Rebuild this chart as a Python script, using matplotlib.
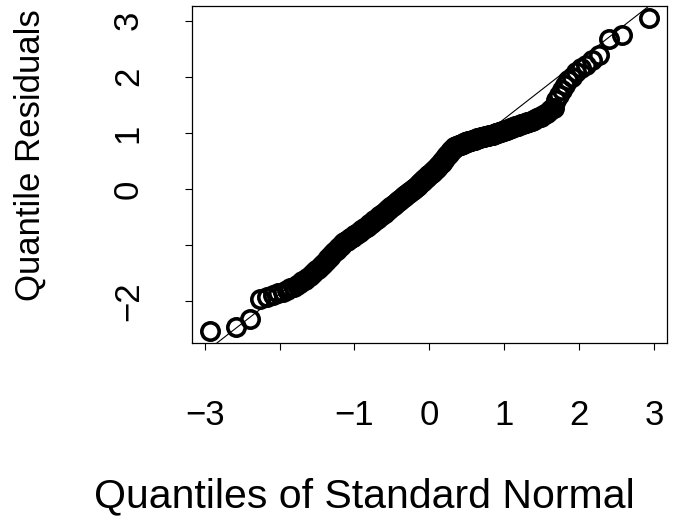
import statistics
import numpy as np
import matplotlib
matplotlib.use("Agg")
import matplotlib.pyplot as plt

plt.rcParams['font.family'] = ['Liberation Sans', 'DejaVu Sans']

# отсортированные квантильные остатки (n = 300)
residuals = [
    -2.53, -2.46, -2.32, -1.97, -1.92, -1.89, -1.86, -1.83, -1.80, -1.77,
    -1.74, -1.71, -1.68, -1.65, -1.62, -1.59, -1.55, -1.52, -1.48, -1.45,
    -1.42, -1.39, -1.36, -1.33, -1.30, -1.27, -1.24, -1.21, -1.18, -1.15,
    -1.13, -1.11, -1.08, -1.06, -1.04, -1.02, -0.99, -0.97, -0.95, -0.93,
    -0.92, -0.91, -0.89, -0.88, -0.87, -0.86, -0.85, -0.83, -0.82, -0.81,
    -0.80, -0.78, -0.77, -0.76, -0.74, -0.73, -0.72, -0.70, -0.69, -0.68,
    -0.67, -0.66, -0.64, -0.63, -0.62, -0.61, -0.60, -0.58, -0.57, -0.56,
    -0.55, -0.54, -0.53, -0.52, -0.51, -0.49, -0.48, -0.47, -0.46, -0.45,
    -0.44, -0.43, -0.42, -0.41, -0.40, -0.38, -0.37, -0.36, -0.35, -0.34,
    -0.33, -0.32, -0.31, -0.30, -0.29, -0.28, -0.27, -0.26, -0.25, -0.24,
    -0.23, -0.22, -0.21, -0.20, -0.19, -0.18, -0.17, -0.16, -0.15, -0.14,
    -0.13, -0.12, -0.11, -0.10, -0.09, -0.09, -0.08, -0.07, -0.06, -0.05,
    -0.04, -0.03, -0.02, -0.01, 0.00, 0.00, 0.01, 0.02, 0.03, 0.04,
    0.05, 0.06, 0.07, 0.08, 0.10, 0.11, 0.12, 0.13, 0.14, 0.15,
    0.16, 0.17, 0.18, 0.19, 0.20, 0.21, 0.22, 0.23, 0.24, 0.25,
    0.26, 0.27, 0.28, 0.29, 0.30, 0.31, 0.32, 0.33, 0.34, 0.35,
    0.36, 0.38, 0.39, 0.40, 0.41, 0.42, 0.44, 0.45, 0.46, 0.47,
    0.49, 0.50, 0.52, 0.53, 0.55, 0.56, 0.58, 0.59, 0.61, 0.62,
    0.63, 0.65, 0.66, 0.67, 0.69, 0.70, 0.71, 0.72, 0.74, 0.75,
    0.75, 0.76, 0.76, 0.77, 0.77, 0.78, 0.78, 0.79, 0.79, 0.80,
    0.80, 0.81, 0.81, 0.82, 0.82, 0.83, 0.83, 0.84, 0.84, 0.85,
    0.85, 0.86, 0.86, 0.86, 0.87, 0.87, 0.88, 0.88, 0.88, 0.89,
    0.89, 0.90, 0.90, 0.90, 0.91, 0.91, 0.92, 0.92, 0.92, 0.93,
    0.93, 0.94, 0.94, 0.94, 0.95, 0.95, 0.96, 0.96, 0.96, 0.97,
    0.97, 0.98, 0.98, 0.99, 0.99, 1.00, 1.00, 1.01, 1.01, 1.02,
    1.03, 1.03, 1.04, 1.05, 1.06, 1.06, 1.07, 1.08, 1.08, 1.09,
    1.10, 1.11, 1.12, 1.12, 1.13, 1.14, 1.15, 1.16, 1.16, 1.17,
    1.18, 1.19, 1.20, 1.21, 1.22, 1.23, 1.25, 1.26, 1.28, 1.29,
    1.31, 1.33, 1.36, 1.39, 1.42, 1.45, 1.58, 1.68, 1.76, 1.85,
    1.94, 2.00, 2.09, 2.15, 2.21, 2.30, 2.38, 2.68, 2.74, 3.04,
]

x_ticks = [-3, -2, -1, 0, 1, 2, 3]
x_tick_labels = ['−3', '', '−1', '0', '1', '2', '3']
y_ticks = [-2, -1, 0, 1, 2, 3]
y_tick_labels = ['−2', '', '0', '1', '2', '3']

# теоретические квантили как в qqnorm (ppoints)
n = len(residuals)
nd = statistics.NormalDist()
theo = [nd.inv_cdf((i + 0.5) / n) for i in range(n)]

# qqline: прямая через первый и третий квартили
yq = np.quantile(residuals, [0.25, 0.75])
xq = [nd.inv_cdf(0.25), nd.inv_cdf(0.75)]
slope = (yq[1] - yq[0]) / (xq[1] - xq[0])
intercept = yq[0] - slope * xq[0]

fig = plt.figure(figsize=(6.84, 5.26), dpi=100)
ax = fig.add_axes([0.2807, 0.3473, 0.694, 0.6413])

ax.plot(theo, residuals, 'o', mfc='none', mec='black', ms=12.5, mew=2.6)
ax.axline((0, intercept), slope=slope, color='black', lw=0.8)

# поля по 4% как в R
xr = max(theo) - min(theo)
yr = max(residuals) - min(residuals)
ax.set_xlim(min(theo) - 0.04 * xr, max(theo) + 0.04 * xr)
ax.set_ylim(min(residuals) - 0.04 * yr, max(residuals) + 0.04 * yr)

ax.set_xticks(x_ticks, x_tick_labels, fontsize=25)
ax.set_yticks(y_ticks, y_tick_labels, fontsize=25, rotation=90, va='center')
ax.tick_params(axis='x', direction='out', length=5, width=0.8, pad=35)
ax.tick_params(axis='y', direction='out', length=5, width=0.8, pad=29)
for s in ax.spines.values():
    s.set_linewidth(0.9)

fig.text(0.532, 0.036, 'Quantiles of Standard Normal', fontsize=29.5,
         ha='center', va='baseline')
fig.text(0.058, 0.705, 'Quantile Residuals', fontsize=25, rotation=90,
         rotation_mode='anchor', ha='center', va='baseline')

fig.savefig('out.png', dpi=100)
